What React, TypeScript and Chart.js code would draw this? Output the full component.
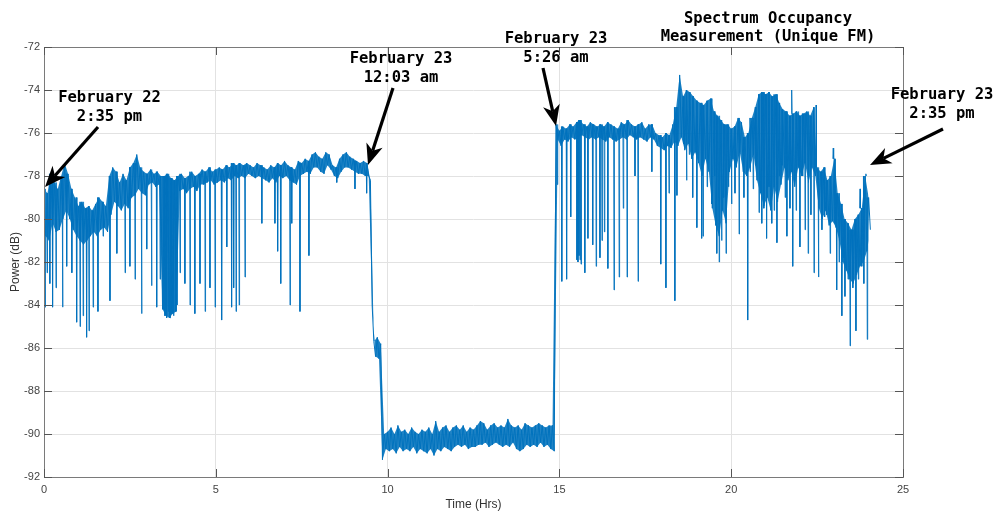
import React, { useEffect, useRef } from "react";
import { Chart, registerables } from "chart.js";

Chart.register(...registerables);

// hours between envelope samples (upper sample at t, lower sample at t + step/2)
const SAMPLE_STEP = 0.1;

// Upper edge of the received-power band, dB, t = 0.0 .. 24.0 h
const upperEnvelope: number[] = [
  -78.6, -78.8, -77.9, -78.3, -78.6, -78.0, -77.4, -77.9, -78.6, -79.0,
  -79.4, -79.2, -79.5, -79.4, -79.6, -79.3, -79.0, -79.2, -79.4, -78.0,
  -77.6, -77.8, -78.3, -77.9, -78.2, -77.6, -77.4, -77.0, -77.6, -77.8,
  -77.9, -77.7, -77.9, -77.8, -78.0, -78.0, -77.9, -78.1, -78.2, -78.0,
  -77.9, -78.1, -78.0, -77.8, -78.0, -77.9, -77.7, -77.8, -77.6, -77.8,
  -77.7, -77.6, -77.7, -77.5, -77.6, -77.4, -77.5, -77.4, -77.5, -77.4,
  -77.5, -77.6, -77.4, -77.5, -77.6, -77.7, -77.5, -77.6, -77.4, -77.5,
  -77.3, -77.5, -77.6, -77.7, -77.3, -77.4, -77.2, -77.3, -77.0, -76.9,
  -77.1, -77.2, -76.9, -77.0, -77.5, -77.6, -77.2, -77.0, -76.9, -77.1,
  -77.2, -77.3, -77.4, -77.3, -77.4, -78.2, -85.7, -85.5, -85.8, -90.0,
  -89.9, -89.7, -90.0, -89.6, -89.9, -89.8, -90.0, -89.7, -89.9, -90.0,
  -89.8, -89.9, -89.7, -90.0, -89.4, -89.9, -89.7, -89.6, -89.9, -89.7,
  -89.6, -89.8, -89.6, -89.9, -89.7, -89.8, -89.6, -89.4, -89.5, -89.8,
  -89.6, -89.5, -89.7, -89.6, -89.7, -89.3, -89.6, -89.7, -89.6, -89.8,
  -89.5, -89.6, -89.7, -89.6, -89.5, -89.6, -89.7, -89.6, -89.6, -75.6,
  -75.9, -75.7, -75.8, -75.6, -75.7, -75.5, -75.4, -75.6, -75.7, -75.5,
  -75.6, -75.7, -75.6, -75.7, -75.5, -75.6, -75.7, -75.8, -75.5, -75.6,
  -75.4, -75.6, -75.7, -75.6, -75.5, -75.8, -75.6, -75.6, -76.0, -76.1,
  -76.2, -76.0, -76.1, -75.6, -74.8, -73.3, -74.3, -74.0, -74.1, -74.3,
  -74.5, -74.6, -74.7, -74.5, -74.4, -75.0, -75.2, -75.4, -75.6, -75.6,
  -75.8, -75.7, -75.3, -75.5, -76.2, -76.0, -75.3, -74.8, -74.2, -74.1,
  -74.2, -74.1, -74.3, -74.2, -74.6, -74.9, -75.0, -75.2, -75.1, -75.0,
  -75.2, -75.1, -75.0, -75.2, -74.8, -77.6, -77.8, -77.6, -78.2, -78.0,
  -77.2, -78.8, -79.3, -80.0, -80.2, -80.5, -80.0, -79.8, -79.5, -78.0,
  -79.0,
];

// Lower edge of the received-power band, dB, t = 0.05 .. 24.05 h
const lowerEnvelope: number[] = [
  -80.8, -81.0, -80.2, -80.6, -80.5, -80.0, -79.6, -80.0, -80.5, -80.8,
  -81.0, -81.2, -81.0, -80.8, -80.6, -80.8, -80.5, -80.4, -80.6, -79.8,
  -79.2, -79.4, -79.6, -79.3, -79.5, -79.0, -78.9, -78.6, -78.8, -78.9,
  -78.4, -78.3, -78.5, -78.4, -84.2, -84.5, -84.6, -84.4, -84.3, -78.7,
  -78.6, -78.8, -78.6, -78.5, -78.7, -78.4, -78.4, -78.3, -78.2, -78.4,
  -78.3, -78.2, -78.3, -78.1, -78.2, -78.0, -78.1, -78.0, -78.1, -77.9,
  -78.0, -78.1, -78.0, -78.1, -78.2, -78.3, -78.1, -78.3, -78.0, -78.1,
  -78.0, -78.2, -78.3, -78.4, -78.0, -77.9, -77.8, -77.9, -77.6, -77.6,
  -77.8, -77.9, -77.5, -77.7, -78.0, -78.1, -77.8, -77.6, -77.6, -77.7,
  -77.8, -77.9, -77.9, -78.0, -78.0, -84.0, -86.4, -86.5, -91.2, -90.7,
  -90.8, -90.7, -90.9, -90.6, -90.8, -90.7, -90.8, -90.6, -90.9, -90.7,
  -90.8, -90.9, -90.7, -91.0, -90.7, -90.8, -90.6, -90.7, -90.8, -90.6,
  -90.5, -90.6, -90.5, -90.7, -90.6, -90.6, -90.5, -90.5, -90.4, -90.6,
  -90.5, -90.4, -90.5, -90.6, -90.5, -90.6, -90.4, -90.7, -90.8, -90.7,
  -90.5, -90.6, -90.5, -90.6, -90.4, -90.6, -90.5, -90.7, -90.8, -76.3,
  -76.6, -76.3, -76.4, -76.2, -76.3, -76.2, -76.1, -76.2, -76.3, -76.2,
  -76.3, -76.2, -76.3, -76.4, -76.2, -76.3, -76.4, -76.3, -76.2, -76.3,
  -76.1, -76.2, -76.3, -76.2, -76.3, -76.4, -76.2, -76.3, -76.6, -76.7,
  -76.8, -76.6, -76.7, -76.4, -76.6, -76.2, -76.8, -76.5, -77.2, -76.9,
  -77.4, -78.0, -77.2, -77.8, -79.5, -80.3, -80.8, -79.6, -80.2, -77.8,
  -77.2, -77.6, -76.9, -77.8, -78.0, -77.6, -77.0, -78.2, -78.8, -79.4,
  -79.0, -79.6, -78.5, -79.2, -78.4, -77.6, -78.2, -77.8, -78.5, -77.6,
  -78.0, -77.4, -78.3, -77.6, -78.0, -79.5, -80.0, -79.6, -80.3, -80.1,
  -80.4, -81.0, -82.0, -82.4, -82.8, -83.0, -82.6, -82.2, -82.0, -81.5,
  -80.5,
];

// Short fades and peaks: [time (h), power (dB)]
const transientSpikes: [number, number][] = [
  [0.03, -84.1], [0.09, -82.5], [0.17, -83.0], [0.25, -84.1], [0.35, -83.2],
  [0.54, -84.1], [0.66, -82.2], [0.81, -82.5], [0.95, -84.8], [1.05, -85.0],
  [1.14, -84.5], [1.24, -85.5], [1.31, -85.2], [1.43, -84.1], [1.57, -84.3],
  [1.72, -80.8], [1.92, -83.8], [2.12, -81.6], [2.36, -82.5], [2.5, -82.2],
  [2.65, -82.8], [2.84, -84.4], [2.99, -81.4], [3.13, -83.1], [3.28, -84.1],
  [3.38, -82.8],
  [3.47, -84.2], [3.52, -84.5], [3.57, -84.6], [3.62, -84.3], [3.67, -84.6],
  [3.72, -84.4], [3.77, -84.5], [3.82, -84.3], [3.87, -84.0],
  [3.96, -82.5], [4.1, -83.0], [4.25, -84.0], [4.39, -84.4], [4.54, -83.0],
  [4.69, -84.3], [4.83, -83.2], [4.98, -84.1], [5.17, -84.7], [5.32, -81.3],
  [5.46, -84.1], [5.52, -83.2], [5.59, -84.3], [5.68, -84.0], [5.85, -82.7],
  [6.34, -80.2], [6.72, -80.2], [6.8, -81.5], [6.89, -83.0], [7.16, -84.0],
  [7.21, -80.2], [7.45, -84.3], [7.71, -81.7], [8.52, -78.3], [9.05, -78.6],
  [9.39, -78.8],
  [14.94, -78.4], [15.07, -82.9], [15.21, -82.8], [15.33, -79.9], [15.51, -81.9],
  [15.54, -82.0], [15.57, -81.7], [15.6, -81.9], [15.63, -82.1], [15.74, -82.5],
  [15.83, -80.9], [15.97, -81.2], [16.07, -82.2], [16.18, -81.8], [16.24, -81.0],
  [16.31, -80.6], [16.41, -82.3], [16.59, -83.3], [16.74, -82.7], [16.86, -79.5],
  [16.97, -82.7], [17.2, -78.0], [17.29, -82.9], [17.69, -77.8], [17.95, -82.1],
  [18.1, -83.2], [18.19, -78.8], [18.36, -83.8], [18.42, -78.9], [18.62, -76.5],
  [18.7, -78.2], [18.78, -77.0], [18.88, -79.0], [19.0, -80.4], [19.14, -80.9],
  [19.18, -80.8], [19.3, -78.5], [19.43, -79.3], [19.52, -78.0], [19.58, -81.6],
  [19.65, -82.0], [19.72, -81.0], [19.78, -79.0], [19.85, -81.6], [19.92, -78.5],
  [20.01, -79.3], [20.11, -78.8], [20.23, -80.7], [20.37, -79.0], [20.48, -84.7],
  [20.55, -77.8], [20.64, -78.6], [20.72, -77.5], [20.81, -79.7], [20.89, -80.2],
  [20.95, -79.5], [21.03, -80.9], [21.1, -78.5], [21.18, -80.2], [21.25, -79.6],
  [21.33, -81.1], [21.4, -78.0], [21.48, -77.5], [21.57, -79.0], [21.62, -80.8],
  [21.71, -79.5], [21.76, -74.0], [21.79, -82.2], [21.89, -79.6], [21.95, -77.5],
  [22.0, -81.3], [22.08, -78.0], [22.15, -80.5], [22.24, -81.6], [22.32, -79.8],
  [22.41, -82.5], [22.47, -74.7], [22.54, -82.7], [22.64, -80.5], [22.72, -79.9],
  [22.78, -79.8], [22.88, -81.6], [22.97, -76.7], [23.02, -80.2], [23.07, -83.3],
  [23.14, -82.0], [23.22, -84.5], [23.27, -81.8], [23.31, -83.6], [23.4, -82.8],
  [23.46, -85.9], [23.54, -83.2], [23.63, -85.2], [23.7, -82.8], [23.75, -78.6],
  [23.8, -82.2], [23.86, -83.0], [23.92, -77.9], [23.96, -85.6],
];

const xTickValues = [0, 5, 10, 15, 20, 25];
const yTickValues = [-92, -90, -88, -86, -84, -82, -80, -78, -76, -74, -72];
const xAxisTitle = "Time (Hrs)";
const yAxisTitle = "Power (dB)";
const titleLines = ["Spectrum Occupancy", "Measurement (Unique FM)"];
const annotationTexts = [
  ["February 22", "2:35 pm"],
  ["February 23", "12:03 am"],
  ["February 23", "5:26 am"],
  ["February 23", "2:35 pm"],
];

// Figure layout (pixels)
const TITLE_LAYOUT = { cx: 768, baselines: [22.5, 41] };
const ANNOTATION_LAYOUT = [
  { cx: 109.5, baselines: [101.5, 121], tail: [98, 127], tip: [45, 187] },
  { cx: 401, baselines: [62.5, 81.5], tail: [393, 88], tip: [368, 165] },
  { cx: 556, baselines: [43, 62], tail: [543, 68], tip: [556, 126] },
  { cx: 942, baselines: [98.5, 118], tail: [943, 129], tip: [870, 165] },
];

const LABEL_FONT = "'Liberation Sans', Arial, Helvetica, sans-serif";
const MONO_FONT = "'DejaVu Sans Mono', 'Liberation Mono', monospace";
const LINE_COLOR = "#0072BD";
const BAND_FILL = "rgba(0, 114, 189, 0.88)";

function drawArrow(ctx: CanvasRenderingContext2D, tail: number[], tip: number[]) {
  const [x1, y1] = tail;
  const [x2, y2] = tip;
  const ang = Math.atan2(y2 - y1, x2 - x1);
  const headLen = 21;
  const halfW = 8.5;
  const notch = 6;
  const ux = Math.cos(ang);
  const uy = Math.sin(ang);
  const px = -uy;
  const py = ux;
  const bx = x2 - ux * headLen;
  const by = y2 - uy * headLen;
  const nx = bx + ux * notch;
  const ny = by + uy * notch;
  ctx.save();
  ctx.strokeStyle = "#000";
  ctx.fillStyle = "#000";
  ctx.lineWidth = 3.2;
  ctx.lineCap = "butt";
  ctx.beginPath();
  ctx.moveTo(x1, y1);
  ctx.lineTo(nx, ny);
  ctx.stroke();
  ctx.beginPath();
  ctx.moveTo(x2, y2);
  ctx.lineTo(bx + px * halfW, by + py * halfW);
  ctx.lineTo(nx, ny);
  ctx.lineTo(bx - px * halfW, by - py * halfW);
  ctx.closePath();
  ctx.fill();
  ctx.restore();
}

export default function App() {
  const ref = useRef<HTMLCanvasElement>(null);

  useEffect(() => {
    const canvas = ref.current;
    if (!canvas) return;

    const upperPoints = upperEnvelope.map((hi, i) => ({
      x: Math.round(i * SAMPLE_STEP * 1000) / 1000,
      y: hi,
    }));
    const lowerPoints = lowerEnvelope.map((lo, i) => ({
      x: Math.round((i * SAMPLE_STEP + SAMPLE_STEP / 2) * 1000) / 1000,
      y: lo,
    }));

    // band trace: alternate between upper and lower edge samples
    const bandPoints: { x: number; y: number }[] = [];
    upperPoints.forEach((p, i) => {
      bandPoints.push(p);
      bandPoints.push(lowerPoints[i]);
    });

    // short fades: each one leaves the band and returns to it
    const spikePoints: { x: number; y: number | null }[] = [];
    transientSpikes.forEach(([t, v]) => {
      const idx = Math.min(upperEnvelope.length - 1, Math.max(0, Math.round(t / SAMPLE_STEP)));
      const base = upperEnvelope[idx];
      spikePoints.push({ x: t - 0.012, y: base });
      spikePoints.push({ x: t, y: v });
      spikePoints.push({ x: t + 0.012, y: base });
      spikePoints.push({ x: t + 0.013, y: null });
    });

    const framePlugin = {
      id: "matlabFrame",
      afterDatasetsDraw(chart: any) {
        const { ctx, chartArea } = chart;
        const { left, right, top, bottom } = chartArea;
        const xs = chart.scales.x;
        const ys = chart.scales.y;
        ctx.save();
        ctx.strokeStyle = "#7a7a7a";
        ctx.lineWidth = 1;
        ctx.strokeRect(Math.round(left) + 0.5, Math.round(top) + 0.5, Math.round(right - left), Math.round(bottom - top));
        ctx.strokeStyle = "#555";
        ctx.beginPath();
        const tl = 8;
        xTickValues.forEach((v) => {
          const x = Math.round(xs.getPixelForValue(v)) + 0.5;
          ctx.moveTo(x, bottom);
          ctx.lineTo(x, bottom - tl);
          ctx.moveTo(x, top);
          ctx.lineTo(x, top + tl);
        });
        yTickValues.forEach((v) => {
          const y = Math.round(ys.getPixelForValue(v)) + 0.5;
          ctx.moveTo(left, y);
          ctx.lineTo(left + tl, y);
          ctx.moveTo(right, y);
          ctx.lineTo(right - tl, y);
        });
        ctx.stroke();
        ctx.restore();
      },
      afterDraw(chart: any) {
        const { ctx } = chart;
        ctx.save();
        ctx.fillStyle = "#000";
        ctx.textAlign = "center";
        ctx.textBaseline = "alphabetic";
        ctx.font = `bold 15.5px ${MONO_FONT}`;
        titleLines.forEach((line, i) => {
          ctx.fillText(line, TITLE_LAYOUT.cx, TITLE_LAYOUT.baselines[i]);
        });
        annotationTexts.forEach((lines, k) => {
          const lay = ANNOTATION_LAYOUT[k];
          lines.forEach((line, i) => ctx.fillText(line, lay.cx, lay.baselines[i]));
          drawArrow(ctx, lay.tail, lay.tip);
        });
        ctx.restore();
      },
    };

    const chart = new Chart(canvas, {
      type: "line",
      data: {
        datasets: [
          {
            data: spikePoints,
            borderColor: LINE_COLOR,
            borderWidth: 0.9,
            borderJoinStyle: "bevel",
            pointRadius: 0,
            fill: false,
            tension: 0,
            spanGaps: false,
          },
          {
            data: bandPoints,
            borderColor: LINE_COLOR,
            borderWidth: 1,
            borderJoinStyle: "bevel",
            pointRadius: 0,
            fill: false,
            tension: 0,
          },
          {
            data: upperPoints,
            borderWidth: 0,
            borderColor: "rgba(0,0,0,0)",
            backgroundColor: BAND_FILL,
            pointRadius: 0,
            tension: 0,
            fill: { target: "+1" },
          },
          {
            data: lowerPoints,
            borderWidth: 0,
            borderColor: "rgba(0,0,0,0)",
            pointRadius: 0,
            tension: 0,
            fill: false,
          },
        ],
      },
      options: {
        animation: false,
        responsive: false,
        events: [],
        layout: { padding: { left: 0, top: 47, right: 94, bottom: 0 } },
        plugins: {
          legend: { display: false },
          tooltip: { enabled: false },
          title: { display: false },
          filler: { propagate: false },
        },
        scales: {
          x: {
            type: "linear",
            min: 0,
            max: 25,
            afterFit: (s: any) => {
              s.height = 36;
            },
            afterBuildTicks: (s: any) => {
              s.ticks = xTickValues.map((v) => ({ value: v }));
            },
            ticks: {
              color: "#444",
              padding: 6,
              maxRotation: 0,
              font: { family: LABEL_FONT, size: 11 },
            },
            grid: { color: "#e2e2e2", lineWidth: 1, drawTicks: false },
            border: { display: false },
            title: {
              display: true,
              text: xAxisTitle,
              color: "#333",
              font: { family: LABEL_FONT, size: 12 },
              padding: { top: 0, bottom: 1 },
            },
          },
          y: {
            type: "linear",
            min: -92,
            max: -72,
            afterFit: (s: any) => {
              s.width = 44;
            },
            afterBuildTicks: (s: any) => {
              s.ticks = yTickValues.map((v) => ({ value: v }));
            },
            ticks: {
              color: "#444",
              padding: 4,
              font: { family: LABEL_FONT, size: 11 },
            },
            grid: { color: "#e2e2e2", lineWidth: 1, drawTicks: false },
            border: { display: false },
            title: {
              display: true,
              text: yAxisTitle,
              color: "#333",
              font: { family: LABEL_FONT, size: 12 },
              padding: { top: 8, bottom: 0 },
            },
          },
        },
      },
      plugins: [framePlugin],
    } as any);

    return () => chart.destroy();
  }, []);

  return (
    <div style={{ position: "fixed", left: 0, top: 0, width: 997, height: 513, background: "#fff" }}>
      <canvas ref={ref} width={997} height={513} style={{ display: "block", width: 997, height: 513 }} />
    </div>
  );
}
